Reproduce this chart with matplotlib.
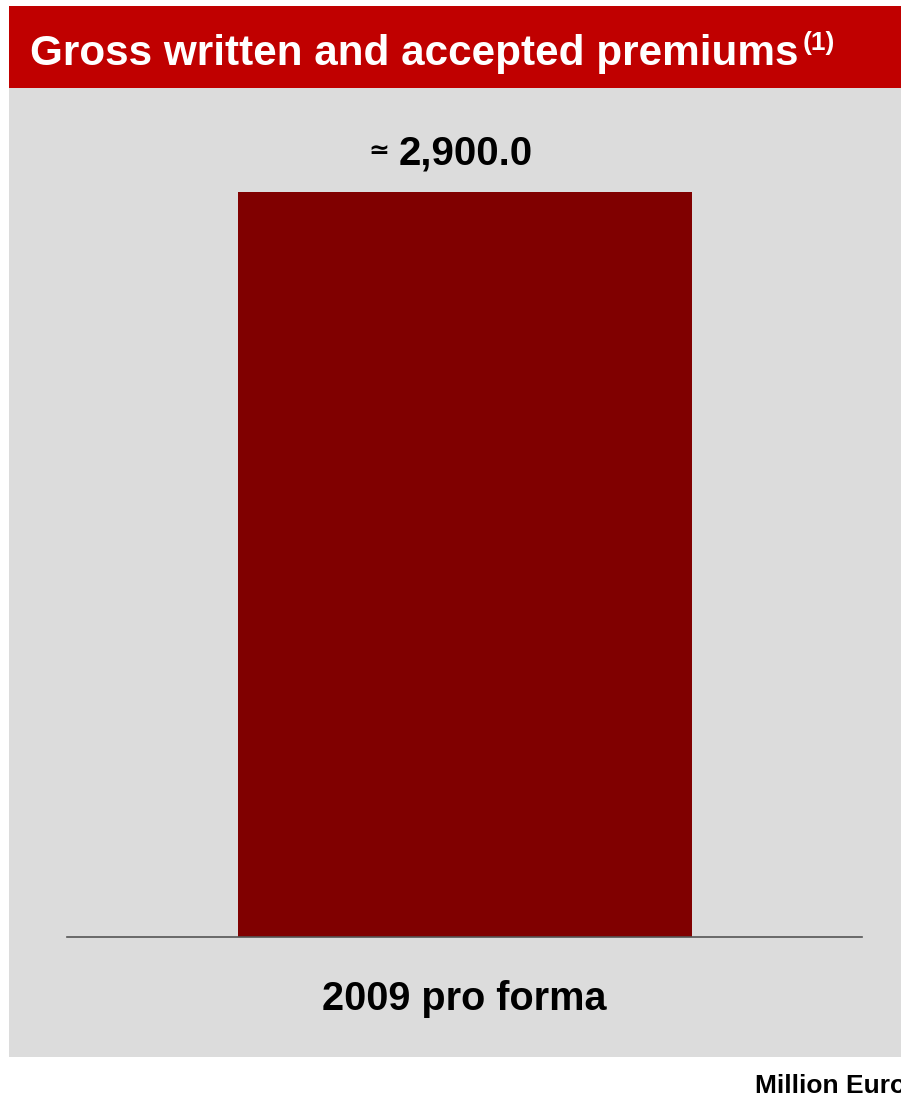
import matplotlib
matplotlib.use('Agg')
from matplotlib import pyplot as plt
from matplotlib.patches import Rectangle

plt.rcParams['font.family'] = ['Liberation Sans', 'DejaVu Sans']

categories = ['2009 pro forma']
values = [2900.0]
value_labels = ['2,900.0']
title = 'Gross written and accepted premiums'
title_note = '(1)'
unit = 'Million Euro'

HEADER_RED = '#C00000'
BAR_RED = '#800000'
PANEL_GREY = '#DCDCDC'

W, H = 901, 1096
fig = plt.figure(figsize=(W / 100, H / 100), dpi=100, facecolor='white')


def px(x, y):
    # pixel position (from top-left) to figure fraction
    return x / W, 1 - y / H


# grey panel and red header band, kept behind the axes
fig.patches.append(Rectangle(px(9, 1057), (W - 9) / W, (1057 - 88) / H,
                             transform=fig.transFigure, facecolor=PANEL_GREY,
                             edgecolor='none', zorder=-10))
fig.patches.append(Rectangle(px(9, 88), (W - 9) / W, (88 - 6) / H,
                             transform=fig.transFigure, facecolor=HEADER_RED,
                             edgecolor='none', zorder=-10))

fig.text(*px(30, 65), title, color='white', fontsize=30.4, fontweight='bold',
         ha='left', va='baseline')
fig.text(*px(803, 50), title_note, color='white', fontsize=19, fontweight='bold',
         ha='left', va='baseline')

# bar axes: baseline at y=937 px, spanning x 67..862 px
top_px = 100
ax = fig.add_axes([67 / W, (H - 937) / H, (862 - 67) / W, (937 - top_px) / H])
ax.set_facecolor('none')
ymax = values[0] * (937 - top_px) / (937 - 192)
ax.set_ylim(0, ymax)
ax.set_xlim(-0.5, 0.5)
xs = list(range(len(categories)))
ax.bar(xs, values, width=454 / 795, color=BAR_RED, zorder=2)

for s in ['top', 'right', 'left']:
    ax.spines[s].set_visible(False)
ax.spines['bottom'].set_color('#555555')
ax.spines['bottom'].set_linewidth(1.2)
ax.set_yticks([])
ax.set_xticks(xs)
ax.set_xticklabels(categories, fontsize=28.5, fontweight='bold')
ax.tick_params(axis='x', length=0, pad=31)

for x, v, lab in zip(xs, values, value_labels):
    ax.annotate(lab, (x, v), xytext=(1, 19.5), textcoords='offset points',
                ha='center', va='baseline', fontsize=29, fontweight='bold')
    ax.annotate('\u2243', (x, v), xytext=(-54, 24.5), textcoords='offset points',
                ha='right', va='baseline', fontsize=18, fontweight='bold',
                family=['DejaVu Sans'])

fig.text(*px(755, 1093), unit, fontsize=19, fontweight='bold',
         ha='left', va='baseline')

fig.savefig('out.png', dpi=100, facecolor='white')
